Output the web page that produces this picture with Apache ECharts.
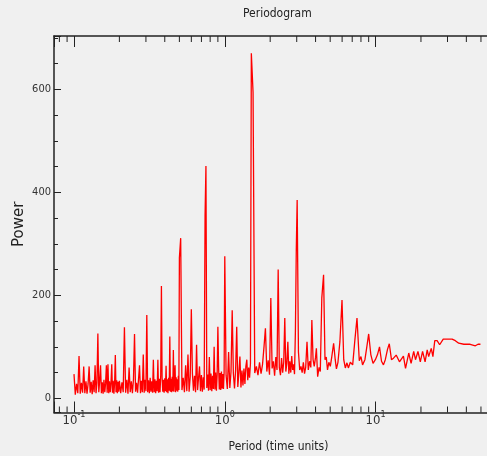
<!DOCTYPE html>
<html>
<head>
<meta charset="utf-8">
<title>Periodogram</title>
<script src="https://cdn.jsdelivr.net/npm/echarts@6.0.0/dist/echarts.min.js"></script>
<style>
  html, body { margin: 0; padding: 0; background: #f0f0f0; }
  #chart { width: 487px; height: 456px; }
</style>
</head>
<body>
<div id="chart"></div>
<script>
// power on regular period steps (start, step): dense part of the periodogram
const powerA = [47, 7, 28, 10, 82, 9, 30, 11, 62, 10, 33, 9, 28, 62, 11, 32, 8, 35, 12, 64,
  10, 30, 126, 12, 34, 64, 10, 31, 9, 36, 12, 29, 64, 11, 66, 10, 33, 12, 30, 66,
  11, 34, 9, 31, 84, 12, 35, 10, 32, 13]
const powerB = [34, 10, 31, 12, 138, 11, 36, 9, 60, 12, 33, 10, 37, 125, 13, 30, 11, 38, 64, 10,
  34, 12, 85, 11, 36, 14, 162, 12, 35, 10, 40, 13, 33, 11, 75, 12, 37, 10, 34, 14,
  75, 11, 38, 12, 45, 218, 40, 13, 36, 11, 39, 14, 63, 12, 37, 10, 40, 15, 120, 13,
  38, 12, 42, 14, 94, 13, 39, 64, 12, 41, 15, 37, 13, 44, 16]
const powerC = [273, 311, 16, 40, 12, 64, 14, 85, 13, 42, 173, 48, 15, 44, 12, 104, 16, 40, 62, 14,
  45, 13, 41, 17, 354, 451, 20, 46, 15, 80, 16, 48, 14, 44, 18, 100, 17, 50, 15, 46,
  139, 60, 17, 49, 16, 52, 19, 47, 18, 50]
const powerD = [276, 45, 18, 90, 20, 52, 171, 48, 19, 55, 139, 22, 50, 81, 21, 54, 25, 58, 28, 62,
  75, 35, 60, 40, 68]
const powerE = [670, 594, 49, 62, 45, 70, 48, 66, 100, 136, 52, 74, 46, 195, 58, 72, 44, 80, 55, 250,
  60, 45, 78, 50, 70, 156, 52, 68, 110, 48, 72, 50, 82, 55, 66, 47, 130, 289]

const segments = [
  [0.100, 0.002, powerA],
  [0.200, 0.004, powerB],
  [0.50, 0.01, powerC],
  [1.00, 0.02, powerD],
  [1.50, 0.04, powerE]
]

// sparse part, long periods
const tailPeriods = [3.02, 3.08, 3.14, 3.20, 3.26, 3.32, 3.38, 3.44, 3.51, 3.58,
  3.65, 3.72, 3.78, 3.85, 3.92, 4.00, 4.05, 4.13, 4.22, 4.30,
  4.40, 4.52, 4.62, 4.71, 4.80, 4.90, 5.01, 5.12, 5.27, 5.40,
  5.50, 5.63, 5.80, 5.99, 6.15, 6.30, 6.46, 6.60, 6.80, 7.05,
  7.30, 7.53, 7.80, 8.00, 8.20, 8.50, 8.75, 9.00, 9.30, 9.62,
  9.97, 10.3, 10.62, 10.95, 11.28, 11.6, 12.0, 12.33, 12.75, 13.15,
  13.7, 14.4, 15.3, 15.8, 16.6, 17.2, 17.9, 18.4, 19.1, 19.8,
  20.5, 21.3, 22.0, 22.5, 23.4, 24.0, 24.7, 25.6, 26.6, 28.1,
  32.2, 33.8, 35.6, 38.5, 42.4, 45.9, 47.8, 49.6]
const tailPower = [385, 90, 55, 62, 50, 70, 48, 60, 110, 55,
  72, 60, 152, 75, 62, 80, 97, 42, 60, 52,
  195, 240, 75, 80, 55, 70, 62, 80, 107, 75,
  57, 70, 110, 191, 75, 59, 69, 59, 70, 65,
  115, 156, 73, 81, 65, 75, 100, 125, 85, 68,
  75, 85, 100, 72, 65, 75, 95, 106, 75, 78,
  84, 71, 82, 58, 88, 68, 91, 75, 91, 71,
  91, 71, 94, 81, 97, 81, 112, 112, 104, 115,
  115, 112, 107, 105, 105, 102, 105, 105]

// minor ticks of the log axis
const minorTicks = [0.08, 0.09, 0.2, 0.3, 0.4, 0.5, 0.6, 0.7, 0.8, 0.9,
  2, 3, 4, 5, 6, 7, 8, 9, 20, 30, 40, 50, 60]

const X_MIN = 0.07369, X_MAX = 70
const Y_MIN = -27.5, Y_MAX = 703.5
const NARROW = "'Liberation Sans Narrow', 'Arial Narrow', 'DejaVu Sans Condensed', sans-serif"
const AXIS_COLOR = '#222'

let points = []
segments.forEach(s => s[2].forEach((v, i) => points.push([+(s[0] + i * s[1]).toFixed(3), v])))
tailPeriods.forEach((p, i) => points.push([p, tailPower[i]]))

var myChart = echarts.init(document.getElementById('chart'), null, { renderer: 'canvas' })

function powerLabel(v) {
  let e = Math.round(Math.log10(v))
  if (Math.abs(Math.log10(v) - e) > 1e-6) return ''
  return '{b|10}{s|' + e + '}'
}

myChart.setOption({
  backgroundColor: '#f0f0f0',
  animation: false,
  title: {
    text: 'Periodogram',
    left: 238,
    top: 3,
    textStyle: { fontFamily: NARROW, fontSize: 12, fontWeight: 'normal', color: '#222' }
  },
  grid: { left: 54, top: 36, width: 449, height: 376.5, outerBoundsMode: 'none', containLabel: false },
  xAxis: [
    {
      type: 'log',
      min: X_MIN,
      max: X_MAX,
      position: 'bottom',
      name: 'Period (time units)',
      nameLocation: 'middle',
      nameGap: 28,
      nameMoveOverlap: false,
      nameTextStyle: { fontFamily: NARROW, fontSize: 12, color: '#222' },
      axisLine: { show: true, onZero: false, lineStyle: { color: AXIS_COLOR, width: 1.5 } },
      axisTick: { show: true, inside: true, length: 11, lineStyle: { color: AXIS_COLOR } },
      axisLabel: {
        margin: -2,
        formatter: powerLabel,
        rich: {
          b: { fontFamily: NARROW, fontSize: 13, color: '#333', verticalAlign: 'bottom' },
          s: { fontFamily: NARROW, fontSize: 9, color: '#333', verticalAlign: 'top', padding: [0, 0, 8, 0] }
        }
      },
      splitLine: { show: false }
    },
    {
      type: 'log',
      min: X_MIN,
      max: X_MAX,
      position: 'top',
      axisLine: { show: true, onZero: false, lineStyle: { color: AXIS_COLOR, width: 1.5 } },
      axisTick: { show: true, inside: true, length: 11, lineStyle: { color: AXIS_COLOR } },
      axisLabel: { show: false },
      splitLine: { show: false }
    }
  ],
  yAxis: [
    {
      type: 'value',
      min: Y_MIN,
      max: Y_MAX,
      splitNumber: 4,
      position: 'left',
      name: 'Power',
      nameLocation: 'middle',
      nameRotate: 90,
      nameGap: 27,
      nameMoveOverlap: false,
      nameTextStyle: { fontFamily: 'DejaVu Sans', fontSize: 15, color: '#222' },
      axisLine: { show: true, onZero: false, lineStyle: { color: AXIS_COLOR, width: 1.5 } },
      axisTick: { show: true, inside: true, length: 7, lineStyle: { color: AXIS_COLOR } },
      axisLabel: {
        margin: 3,
        fontFamily: NARROW,
        fontSize: 11,
        color: '#333',
        formatter: v => (v % 200 === 0 ? v : '')
      },
      splitLine: { show: false }
    },
    {
      // minor ticks every 50
      type: 'value',
      min: Y_MIN,
      max: Y_MAX,
      splitNumber: 15,
      position: 'left',
      axisLine: { show: false, onZero: false },
      axisTick: { show: true, inside: true, length: 4, lineStyle: { color: AXIS_COLOR } },
      axisLabel: { show: false },
      splitLine: { show: false }
    }
  ],
  series: [
    {
      name: 'Power',
      type: 'line',
      data: points,
      symbol: 'none',
      lineStyle: { color: '#f00', width: 1.3 },
      xAxisIndex: 0,
      yAxisIndex: 0
    },
    {
      // minor ticks on bottom and top axes
      type: 'custom',
      xAxisIndex: 0,
      yAxisIndex: 0,
      data: minorTicks.map(p => [p, 0]),
      encode: { x: 0, y: 1 },
      clip: false,
      silent: true,
      renderItem: function (params, api) {
        let b = api.coord([api.value(0), Y_MIN])
        let t = api.coord([api.value(0), Y_MAX])
        let st = { stroke: AXIS_COLOR, lineWidth: 1 }
        return {
          type: 'group',
          children: [
            { type: 'line', shape: { x1: b[0], y1: b[1], x2: b[0], y2: b[1] - 6 }, style: st },
            { type: 'line', shape: { x1: t[0], y1: t[1], x2: t[0], y2: t[1] + 6 }, style: st }
          ]
        }
      }
    }
  ]
})
</script>
</body>
</html>
